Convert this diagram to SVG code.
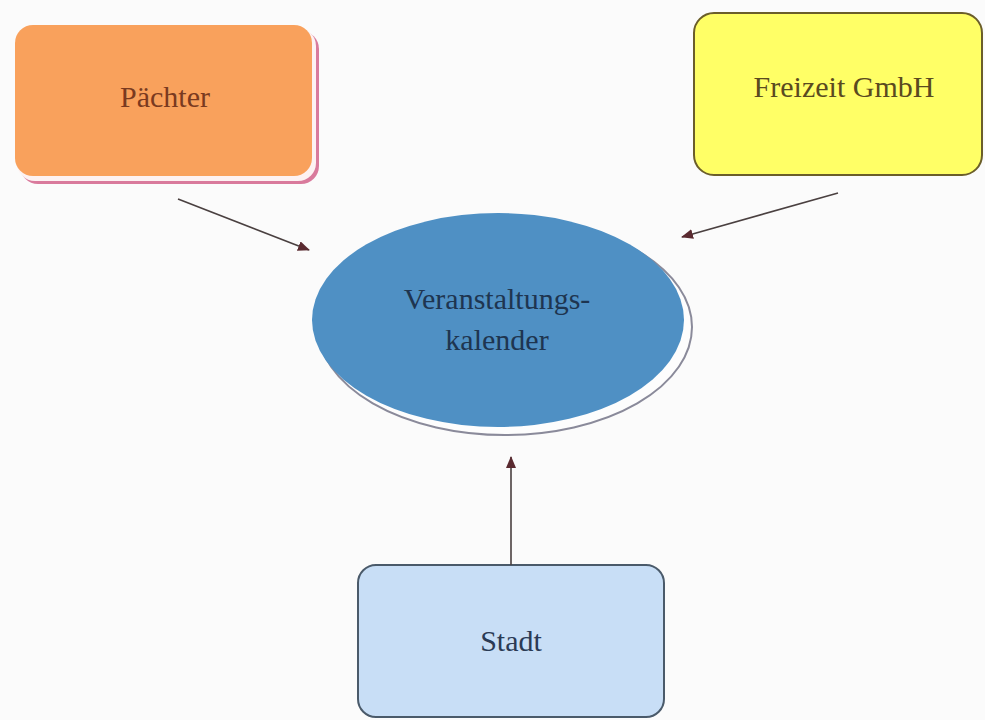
<svg xmlns="http://www.w3.org/2000/svg" width="985" height="720" viewBox="0 0 985 720">
<style>
text{font-size:30px;text-anchor:middle}
.conn line{stroke:#4a4040;stroke-width:1.6}
</style>
<defs>
<marker id="ah" markerWidth="12" markerHeight="10" refX="11" refY="5" orient="auto" markerUnits="userSpaceOnUse">
<path d="M0,0 L12,5 L0,10 Z" fill="#5a2a30"/>
</marker>
</defs>
<rect width="985" height="720" fill="#fbfbfb"/>
<g id="paechter" font-family="'Liberation Serif', 'DejaVu Serif', serif">
<rect x="20" y="31" width="299" height="153" rx="18" fill="#d97a9c"/>
<rect x="17" y="28" width="299" height="153" rx="18" fill="#fdf2f2"/>
<rect x="15" y="25" width="297" height="151" rx="18" fill="#f9a15c"/>
<text x="165" y="107" fill="#7a3a20">Pächter</text>
</g>
<g id="freizeit" font-family="'Liberation Serif', 'DejaVu Serif', serif">
<rect x="694" y="13" width="288" height="162" rx="20" fill="#ffff66" stroke="#6b5e2a" stroke-width="2"/>
<text x="844" y="97" fill="#5a4a20">Freizeit GmbH</text>
</g>
<g id="kalender" font-family="'Liberation Serif', 'DejaVu Serif', serif">
<ellipse cx="505" cy="327" rx="187" ry="108" fill="#fdfdfd" stroke="#8a8a9a" stroke-width="2"/>
<ellipse cx="498" cy="320" rx="186" ry="107" fill="#4f90c4"/>
<text x="497" y="309" fill="#1e3550">Veranstaltungs-</text>
<text x="497" y="350" fill="#1e3550">kalender</text>
</g>
<g id="stadt" font-family="'Liberation Serif', 'DejaVu Serif', serif">
<rect x="358" y="565" width="306" height="152" rx="18" fill="#c8def6" stroke="#4a5a6a" stroke-width="2"/>
<text x="511" y="651" fill="#2a3a55">Stadt</text>
</g>
<g class="conn">
<line x1="178" y1="199" x2="309" y2="250" marker-end="url(#ah)"/>
<line x1="838" y1="193" x2="682" y2="237" marker-end="url(#ah)"/>
<line x1="511" y1="565" x2="511" y2="457" marker-end="url(#ah)"/>
</g>
</svg>
